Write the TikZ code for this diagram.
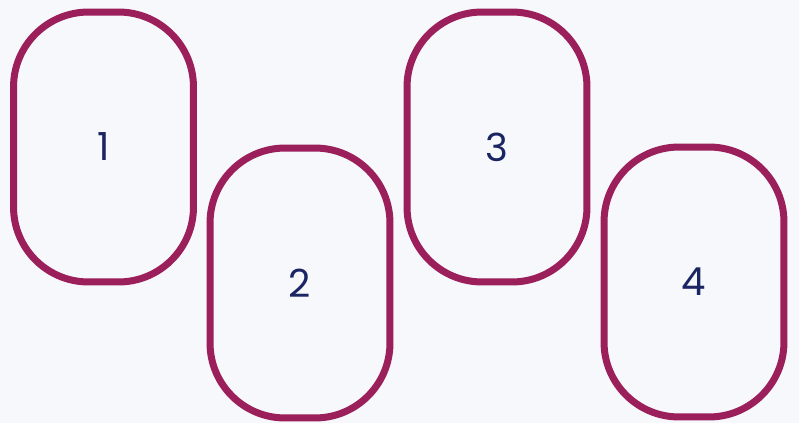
\documentclass[tikz,border=0pt]{standalone}
\usepackage{fontspec}
\setmainfont{Poppins}
\usepackage{tikz}
\usetikzlibrary{positioning}

\definecolor{cardrim}{HTML}{9B1F5A}
\definecolor{cardnum}{HTML}{1B2563}
\definecolor{paper}{HTML}{F6F8FB}

\begin{document}
\begin{tikzpicture}[x=0.02cm,y=-0.02cm,
    card/.style={draw=cardrim,line width=0.14cm,rounded corners=1.5cm,
      minimum width=3.6cm,minimum height=5.4cm,text=cardnum,
      font=\fontsize{22}{26}\selectfont}]
  % background
  \fill[paper] (0,0) rectangle (799,423);
  \useasboundingbox (0,0) rectangle (799,423);
  % cards
  \node[card] (c1) at (103.5,147) {1};
  \node[card] (c2) at (300,283) {2};
  \node[card] (c3) at (497,147) {3};
  \node[card] (c4) at (694,282) {4};
\end{tikzpicture}
\end{document}
